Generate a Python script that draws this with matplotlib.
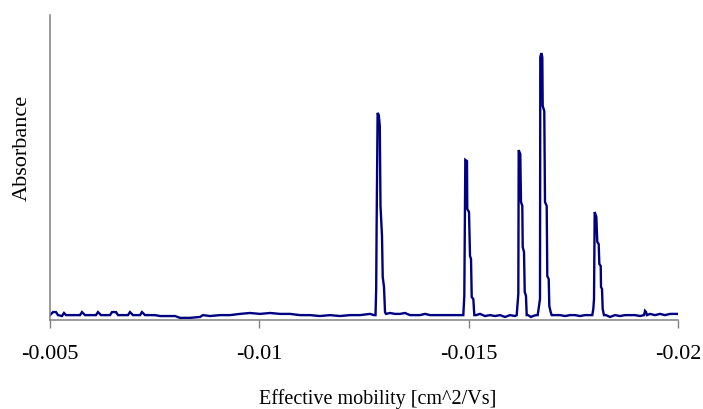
import numpy as np
import matplotlib
matplotlib.use("Agg")
import matplotlib.pyplot as plt

# electropherogram: mobility [cm^2/Vs] vs absorbance (arbitrary 0..1)
base_a_mob = [-0.005000, -0.005072, -0.005143, -0.005191, -0.005287, -0.005334, -0.005382,
              -0.005717, -0.005764, -0.005836, -0.006099, -0.006146, -0.006218, -0.006433,
              -0.006481, -0.006576, -0.006624, -0.006863, -0.006911, -0.006982, -0.007150,
              -0.007197, -0.007269, -0.007508, -0.007627, -0.007986, -0.008105, -0.008344,
              -0.008583, -0.008654, -0.008822, -0.009060, -0.009299, -0.009538, -0.009777,
              -0.010016, -0.010255, -0.010494, -0.010732, -0.010971, -0.011210, -0.011449,
              -0.011688, -0.011927, -0.012166, -0.012404, -0.012643, -0.012739]
base_a_abs = [0.016, 0.026, 0.026, 0.016, 0.013, 0.023, 0.016,
              0.016, 0.026, 0.016, 0.016, 0.026, 0.016, 0.016,
              0.026, 0.026, 0.016, 0.016, 0.026, 0.016, 0.016,
              0.026, 0.016, 0.016, 0.013, 0.013, 0.007, 0.007,
              0.010, 0.016, 0.013, 0.016, 0.016, 0.020, 0.023,
              0.020, 0.023, 0.020, 0.020, 0.016, 0.016, 0.013,
              0.016, 0.013, 0.016, 0.016, 0.020, 0.016]

peak1_mob = [-0.012775, -0.012791, -0.012801, -0.012825, -0.012853, -0.012877,
             -0.012894, -0.012930, -0.012947, -0.012978, -0.013002]
peak1_abs = [0.016, 0.102, 0.298, 0.679, 0.672, 0.636, 0.374, 0.275, 0.141, 0.108, 0.026]

base_b_mob = [-0.013025, -0.013121, -0.013240, -0.013360, -0.013479, -0.013599, -0.013838,
              -0.013957, -0.014076, -0.014315, -0.014554, -0.014793, -0.014865]
base_b_abs = [0.020, 0.023, 0.020, 0.020, 0.023, 0.016, 0.016,
              0.020, 0.016, 0.016, 0.016, 0.016, 0.016]

peak2_mob = [-0.014872, -0.014896, -0.014920, -0.014960, -0.014967, -0.015008,
             -0.015032, -0.015056, -0.015073, -0.015111, -0.015135]
peak2_abs = [0.016, 0.079, 0.525, 0.521, 0.364, 0.354, 0.210, 0.200, 0.075, 0.069, 0.016]

base_c_mob = [-0.015175, -0.015271, -0.015390, -0.015510, -0.015629, -0.015748,
              -0.015868, -0.015987, -0.016107]
base_c_abs = [0.016, 0.020, 0.013, 0.016, 0.013, 0.016, 0.010, 0.016, 0.013]

peak3_mob = [-0.016147, -0.016171, -0.016186, -0.016195, -0.016233, -0.016250,
             -0.016281, -0.016291, -0.016322, -0.016339, -0.016369, -0.016386]
peak3_abs = [0.016, 0.059, 0.085, 0.557, 0.544, 0.387, 0.374, 0.239, 0.223, 0.092, 0.079, 0.016]

base_d_mob = [-0.016417, -0.016489, -0.016537, -0.016608]
base_d_abs = [0.016, 0.010, 0.013, 0.016]

peak4_mob = [-0.016649, -0.016680, -0.016704, -0.016711, -0.016735, -0.016759, -0.016768,
             -0.016806, -0.016823, -0.016864, -0.016878, -0.016912, -0.016926, -0.016959,
             -0.016983]
peak4_abs = [0.016, 0.046, 0.069, 0.862, 0.875, 0.862, 0.702,
             0.685, 0.387, 0.374, 0.144, 0.134, 0.046, 0.026, 0.016]

base_e_mob = [-0.017014, -0.017181, -0.017301, -0.017420, -0.017540, -0.017659,
              -0.017779, -0.017898]
base_e_abs = [0.016, 0.016, 0.013, 0.016, 0.016, 0.013, 0.016, 0.016]

peak5_mob = [-0.017953, -0.017977, -0.017994, -0.018010, -0.018049, -0.018072, -0.018106,
             -0.018121, -0.018154, -0.018161, -0.018185, -0.018201, -0.018232]
peak5_abs = [0.016, 0.036, 0.069, 0.354, 0.338, 0.256, 0.249,
             0.184, 0.177, 0.108, 0.102, 0.036, 0.016]

base_f_mob = [-0.018280, -0.018376, -0.018495, -0.018615, -0.018734, -0.018854,
              -0.018973, -0.019092, -0.019188, -0.019212, -0.019236, -0.019260,
              -0.019331, -0.019451, -0.019570, -0.019689, -0.019809, -0.020000]
base_f_abs = [0.016, 0.010, 0.016, 0.013, 0.016, 0.016,
              0.016, 0.013, 0.016, 0.030, 0.026, 0.016,
              0.020, 0.016, 0.020, 0.016, 0.020, 0.020]

xticks = [-0.005, -0.01, -0.015, -0.02]
xtick_labels = ["-0.005", "-0.01", "-0.015", "-0.02"]

mob = np.concatenate([base_a_mob, peak1_mob, base_b_mob, peak2_mob, base_c_mob,
                      peak3_mob, base_d_mob, peak4_mob, base_e_mob, peak5_mob, base_f_mob])
absb = np.concatenate([base_a_abs, peak1_abs, base_b_abs, peak2_abs, base_c_abs,
                       peak3_abs, base_d_abs, peak4_abs, base_e_abs, peak5_abs, base_f_abs])

plt.rcParams['font.family'] = ['Liberation Serif', 'DejaVu Serif']

fig = plt.figure(figsize=(7.03, 4.10), dpi=100)
ax = fig.add_axes([50 / 703, 89 / 410, 628 / 703, 305 / 410])

ax.plot(mob, absb, color='#000080', lw=1.7, solid_joinstyle='miter')

ax.set_xlim(-0.005, -0.02)
ax.set_ylim(0, 1)
ax.set_xticks(xticks)
ax.set_xticklabels(xtick_labels, fontsize=16)
ax.set_yticks([])
ax.tick_params(axis='x', direction='out', length=5.5, width=1, color='#808080', pad=12)

for side in ['top', 'right']:
    ax.spines[side].set_visible(False)
for side in ['left', 'bottom']:
    ax.spines[side].set_color('#808080')
    ax.spines[side].set_linewidth(1.1)

fig.text(378 / 703, 1 - 399 / 410, "Effective mobility [cm^2/Vs]", fontsize=14.5,
         ha='center', va='center')
fig.text(22 / 703, 1 - 148 / 410, "Absorbance", fontsize=16, rotation=90,
         ha='center', va='center')

fig.savefig('out.png', dpi=100)
